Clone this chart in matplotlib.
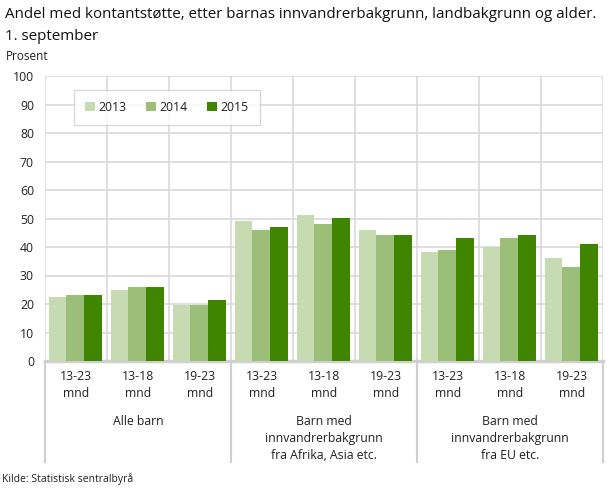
import matplotlib.pyplot as plt
import matplotlib.transforms as mtransforms
import numpy as np

plt.rcParams['font.family'] = ['Open Sans', 'DejaVu Sans']

years = ['2013', '2014', '2015']
ages = ['13-23\nmnd', '13-18\nmnd', '19-23\nmnd'] * 3
groups = ['Alle barn',
          'Barn med\ninnvandrerbakgrunn\nfra Afrika, Asia etc.',
          'Barn med\ninnvandrerbakgrunn\nfra EU etc.']
v2013 = [22.4, 24.9, 19.6, 49.1, 51.2, 46.0, 38.2, 40.1, 36.1]
v2014 = [23.1, 26.0, 19.6, 46.0, 48.1, 44.2, 38.9, 43.2, 33.0]
v2015 = [23.1, 26.0, 21.4, 47.0, 50.2, 44.2, 43.2, 44.2, 41.0]
colors = ['#c6dbb2', '#9bbf78', '#3f8500']

W, H = 610, 488
fig = plt.figure(figsize=(6.1, 4.88), dpi=100)
ax = fig.add_axes([45 / W, (H - 361) / H, 558 / W, 285 / H])

x = np.arange(len(ages))
bw = 0.285
for i, (vals, c, lab) in enumerate(zip([v2013, v2014, v2015], colors, years)):
    ax.bar(x + (i - 1) * bw - 0.012, vals, bw, color=c, label=lab, zorder=3)

ax.set_xlim(-0.5, len(ages) - 0.5)
ax.set_ylim(0, 100)
ax.set_yticks(range(0, 101, 10))
ax.set_xticks(np.arange(-0.5, len(ages), 1))
ax.set_xticklabels([])
ax.tick_params(axis='x', length=0)
ax.tick_params(axis='y', length=0, labelsize=8.8, colors='#222222', pad=8)
ax.grid(True, color='#d9d9d9', linewidth=1.2, zorder=0)
for s in ['top', 'right', 'left']:
    ax.spines[s].set_visible(False)
ax.spines['bottom'].set_color('#d0d0d0')
ax.spines['bottom'].set_linewidth(2.5)

trans = mtransforms.blended_transform_factory(ax.transData, ax.transAxes)
px = 1 / 285
for xi, lab in zip(x, ages):
    ax.text(xi, -24 * px, lab, transform=trans, ha='center', va='center',
            fontsize=8.8, color='#222222', linespacing=1.45)
for gi, lab in enumerate(groups):
    ax.text(gi * 3 + 1, -54 * px, lab, transform=trans, ha='center', va='top',
            fontsize=8.8, color='#222222', linespacing=1.4)
for b in [-0.5, 2.5, 5.5, 8.5]:
    ax.plot([b, b], [0, -101 * px], transform=trans, color='#d0d0d0',
            linewidth=1.5, clip_on=False)

leg = ax.legend(loc='upper left', bbox_to_anchor=(29 / 558, 1 - 14 / 285), ncol=3,
                frameon=True, fancybox=False, fontsize=8.8, handlelength=0.8,
                handleheight=0.8, handletextpad=0.3, columnspacing=1.6,
                borderpad=0.9, borderaxespad=0)
leg.get_frame().set_edgecolor('#d0d0d0')
leg.get_frame().set_linewidth(1)
for t in leg.get_texts():
    t.set_color('#222222')

fig.text(5 / W, 1 - 14 / H, 'Andel med kontantstøtte, etter barnas innvandrerbakgrunn, landbakgrunn og alder.',
         fontsize=10.9, va='center', ha='left', color='#111111')
fig.text(5 / W, 1 - 36 / H, '1. september', fontsize=10.9, va='center', ha='left', color='#111111')
fig.text(6 / W, 1 - 56 / H, 'Prosent', fontsize=8.5, va='center', ha='left', color='#222222')
fig.text(2 / W, 1 - 479 / H, 'Kilde: Statistisk sentralbyrå', fontsize=7.5, va='center', ha='left',
         color='#222222')

fig.savefig('out.png', dpi=100)
